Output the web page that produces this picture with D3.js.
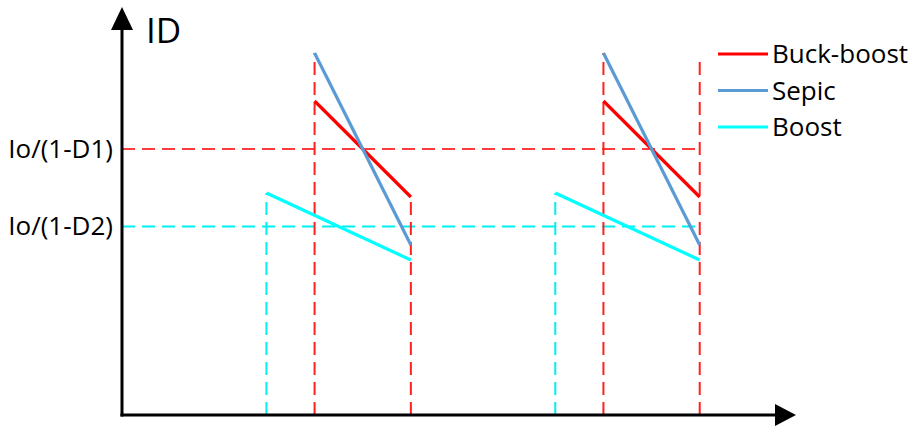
<!DOCTYPE html>
<html>
<head>
<meta charset="utf-8">
<script src="https://cdn.jsdelivr.net/npm/d3@7"></script>
<style>
  html, body { margin: 0; padding: 0; background: #fff; }
  svg { display: block; font-family: "Open Sans", sans-serif; }
</style>
</head>
<body>
<svg id="chart" width="915" height="430"></svg>
<script>
// ---- data (time in arbitrary units, current in arbitrary units) ----
const seriesNames = ["Buck-boost", "Sepic", "Boost"];
const seriesColors = ["#ff0000", "#5b9bd5", "#00ffff"];
// each series: ramps [tStart, iStart, tEnd, iEnd] per period
const buckBoost = [[4, 78.5, 6, 54.5], [10, 78.5, 12, 54.5]];
const sepic     = [[4, 90.5, 6, 42.5], [10, 90.5, 12, 42.5]];
const boost     = [[3, 55.5, 6, 38.75], [9, 55.5, 12, 38.75]];
const levelValues = [66.5, 47.1];
const levelLabels = ["Io/(1-D1)", "Io/(1-D2)"];
const levelColors = ["#ff3b3b", "#00f0f0"];
const guideColors = ["#ff2020", "#00f0f0"];
// vertical dashed guides: [t, iTop, colour index]
const guides = [[3, 55.5, 1], [4, 90.5, 0], [6, 54.5, 0], [9, 55.5, 1], [10, 90.5, 0], [12, 90, 0]];
const levelEnd = 12;
const xMax = 14, yMax = 102;

const svg = d3.select("#chart");
const x = d3.scaleLinear().domain([0, 14]).range([122, 796]);
const y = d3.scaleLinear().domain([0, 100]).range([415, 15]);

// horizontal dashed levels
svg.append("g").selectAll("line").data(levelValues).join("line")
  .attr("x1", x(0)).attr("x2", x(levelEnd))
  .attr("y1", d => y(d)).attr("y2", d => y(d))
  .attr("stroke", (d, i) => levelColors[i])
  .attr("stroke-width", 2)
  .attr("stroke-dasharray", "13,7");

// vertical dashed guides
svg.append("g").selectAll("line").data(guides).join("line")
  .attr("x1", d => x(d[0])).attr("x2", d => x(d[0]))
  .attr("y1", y(0)).attr("y2", d => y(d[1]))
  .attr("stroke", d => guideColors[d[2]])
  .attr("stroke-width", 2)
  .attr("stroke-dasharray", "13,7");

// series ramps
const allSeries = [buckBoost, sepic, boost];
const order = [2, 0, 1];
order.forEach(si => {
  svg.append("g").selectAll("line").data(allSeries[si]).join("line")
    .attr("x1", d => x(d[0])).attr("y1", d => y(d[1]))
    .attr("x2", d => x(d[2])).attr("y2", d => y(d[3]))
    .attr("stroke", seriesColors[si])
    .attr("stroke-width", 3.2)
    .attr("stroke-linecap", "butt");
});

// axes
const axisG = svg.append("g");
axisG.append("line")
  .attr("x1", x(0)).attr("x2", x(0))
  .attr("y1", y(0) + 1.5).attr("y2", y(yMax) + 20)
  .attr("stroke", "#000").attr("stroke-width", 3);
axisG.append("line")
  .attr("x1", x(0) - 1.5).attr("x2", x(xMax) - 18)
  .attr("y1", y(0)).attr("y2", y(0))
  .attr("stroke", "#000").attr("stroke-width", 3);
// arrow heads
const tipY = [x(0), y(yMax)];
axisG.append("path")
  .attr("d", `M${tipY[0]},${tipY[1]} L${tipY[0] - 11},${tipY[1] + 23} L${tipY[0] + 11},${tipY[1] + 23} Z`)
  .attr("fill", "#000");
const tipX = [x(xMax), y(0)];
axisG.append("path")
  .attr("d", `M${tipX[0]},${tipX[1]} L${tipX[0] - 21},${tipX[1] - 11} L${tipX[0] - 21},${tipX[1] + 11} Z`)
  .attr("fill", "#000");

// y tick labels via d3 axis
const yAxis = d3.axisLeft(y).tickValues(levelValues)
  .tickFormat((d, i) => levelLabels[i]).tickSize(0).tickPadding(9);
const ya = svg.append("g").attr("transform", `translate(${x(0)},0)`).call(yAxis);
ya.select(".domain").remove();
ya.selectAll("text").attr("font-size", 26).attr("fill", "#000")
  .attr("font-family", "'Open Sans', sans-serif");

// axis title
svg.append("text").attr("x", 146).attr("y", 43)
  .attr("font-size", 35).attr("fill", "#000").text("ID");

// legend
const lg = svg.append("g").selectAll("g").data(seriesNames).join("g")
  .attr("transform", (d, i) => `translate(718,${54 + i * 36.5})`);
lg.append("line").attr("x1", 0).attr("x2", 50).attr("y1", 0).attr("y2", 0)
  .attr("stroke", (d, i) => seriesColors[i]).attr("stroke-width", 3.2);
lg.append("text").attr("x", 54).attr("y", 0).attr("dy", "0.35em")
  .attr("font-size", 26).attr("fill", "#000").text(d => d);
</script>
</body>
</html>
